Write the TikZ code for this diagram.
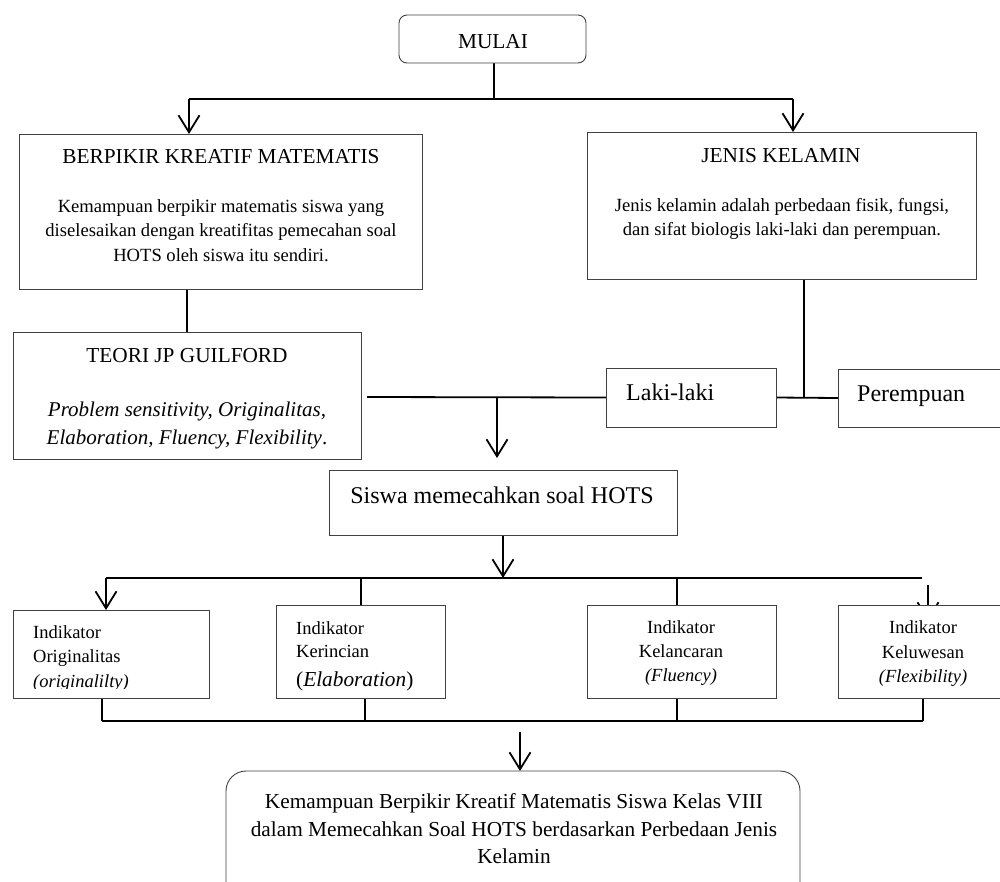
\documentclass[tikz,border=0pt]{standalone}
\usepackage{fontspec}
\setmainfont{Liberation Serif}
\usetikzlibrary{arrows.meta,backgrounds}
\tikzset{
  box/.style={draw=black!75, line width=0.9pt, fill=white, inner sep=0pt, outer sep=0pt},
  rbox/.style={box, rounded corners=#1},
  conn/.style={line width=1.8pt, black},
  arr/.style={conn, -{Straight Barb[length=17pt,width=21pt]}},
  tl/.style={inner sep=0pt, anchor=base, font=\fontsize{21.3}{24}\selectfont},
  bd/.style={inner sep=0pt, anchor=base, font=\fontsize{18.6}{22}\selectfont},
  it/.style={inner sep=0pt, anchor=base, font=\fontsize{21}{24}\selectfont\itshape},
  big/.style={inner sep=0pt, anchor=base west, font=\fontsize{24}{28}\selectfont},
  ind/.style={inner sep=0pt, anchor=base west, font=\fontsize{18.5}{22}\selectfont},
  indc/.style={inner sep=0pt, anchor=base, font=\fontsize{18.5}{22}\selectfont},
}
\begin{document}
\begin{tikzpicture}[x=1pt,y=-1pt]
\clip (0,0) rectangle (1000,881);

% boxes
\node[rbox=8pt, minimum width=187pt, minimum height=48pt] (mulai) at (492.5,39) {};
\node[box, minimum width=403pt, minimum height=155pt] (bkm) at (220.5,211.5) {};
\node[box, minimum width=389pt, minimum height=147pt] (jk) at (781.5,205.5) {};
\node[box, minimum width=348pt, minimum height=127pt] (teori) at (187,395.5) {};
\node[box, minimum width=170pt, minimum height=59pt] (laki) at (691,397.5) {};
\node[box, minimum width=172pt, minimum height=58pt] (perempuan) at (924,398) {};
\node[box, minimum width=348pt, minimum height=65pt] (siswa) at (503,503) {};
\node[box, minimum width=196pt, minimum height=88pt] (ori) at (111,654) {};
\node[box, minimum width=169pt, minimum height=93pt] (ker) at (360.5,651.5) {};
\node[box, minimum width=189pt, minimum height=93pt] (lan) at (681.5,651.5) {};
\node[box, minimum width=170pt, minimum height=93pt] (luw) at (923,651.5) {};
\node[rbox=20pt, minimum width=574pt, minimum height=140pt] (fin) at (513,841) {};

% texts
\node[tl] (mulaiT) at (493,48) {MULAI};
\node[tl] (bkmT) at (221,163) {BERPIKIR KREATIF MATEMATIS};
\node[bd] (bkm1) at (221,212) {Kemampuan berpikir matematis siswa yang};
\node[bd] (bkm2) at (221,236) {diselesaikan dengan kreatifitas pemecahan soal};
\node[bd] (bkm3) at (221,261) {HOTS oleh siswa itu sendiri.};
\node[tl] (jkT) at (781,162) {JENIS KELAMIN};
\node[bd] (jk1) at (782,211) {Jenis kelamin adalah perbedaan fisik, fungsi,};
\node[bd] (jk2) at (782,235) {dan sifat biologis laki-laki dan perempuan.};
\node[tl] (teoriT) at (187,362) {TEORI JP GUILFORD};
\node[it] (teori1) at (187,416) {Problem sensitivity, Originalitas,};
\node[it] (teori2) at (187,444) {Elaboration, Fluency, Flexibility\upshape.};
\node[big] (lakiT) at (626,400) {Laki-laki};
\node[big] (perT) at (857,401) {Perempuan};
\node[big, anchor=base] (siswaT) at (502,503) {Siswa memecahkan soal HOTS};
\node[ind] (ori1) at (33,638) {Indikator};
\node[ind] (ori2) at (33,662) {Originalitas};
\begin{scope}
\clip (14,611) rectangle (208,688.5);
\node[ind, font=\fontsize{18.5}{22}\selectfont\itshape] (ori3) at (33,687) {(originalilty)};
\end{scope}
\node[ind] (ker1) at (296,634) {Indikator};
\node[ind] (ker2) at (296,657) {Kerincian};
\node[ind, font=\fontsize{21.3}{24}\selectfont] (ker3) at (296,686) {(\textit{Elaboration})};
\node[indc] (lan1) at (681,633) {Indikator};
\node[indc] (lan2) at (681,657) {Kelancaran};
\node[indc, font=\fontsize{18.5}{22}\selectfont\itshape] (lan3) at (681,681) {(Fluency)};
\node[indc] (luw1) at (923,633) {Indikator};
\node[indc] (luw2) at (923,658) {Keluwesan};
\node[indc, font=\fontsize{18.5}{22}\selectfont\itshape] (luw3) at (923,682) {(Flexibility)};
\node[tl] (fin1) at (514,808) {Kemampuan Berpikir Kreatif Matematis Siswa Kelas VIII};
\node[tl] (fin2) at (514,836) {dalam Memecahkan Soal HOTS berdasarkan Perbedaan Jenis};
\node[tl] (fin3) at (514,863) {Kelamin};

% connectors
\coordinate (j1) at (494,99);
\coordinate (j1L) at (189,99);
\coordinate (j1R) at (793,99);
\coordinate (j2) at (804,397);
\coordinate (j3a) at (367,397);
\coordinate (j3) at (497,397);
\coordinate (s1) at (497,458);
\coordinate (h4) at (503,578);
\coordinate (h4L) at (106,578);
\coordinate (h4R) at (922,578);
\coordinate (k1) at (361,578);
\coordinate (l1) at (677,578);
\coordinate (w1) at (928,585);
\coordinate (w2) at (928,621);
\coordinate (b1) at (102,721);
\coordinate (b2) at (365,721);
\coordinate (b3) at (677,721);
\coordinate (b4) at (923,721);
\coordinate (b5) at (520,732);
\begin{scope}[on background layer]
\draw[conn] (mulai.south -| j1) -- (j1);
\draw[conn] (j1L) -- (j1R);
\draw[arr] (j1L) -- (j1L |- bkm.north);
\draw[arr] (j1R) -- (j1R |- jk.north);
\draw[conn] (teori.north |- bkm.south) -- (teori.north);
\draw[conn] (jk.south -| j2) -- (j2);
\draw[conn] (laki.east) -- (perempuan.west);
\draw[conn] (j3a) -- (laki.west);
\draw[arr] (j3) -- (s1);
\draw[arr] (siswa.south) -- (h4);
\draw[conn] (h4L) -- (h4R);
\draw[arr] (h4L) -- (h4L |- ori.north);
\draw[conn] (k1) -- (k1 |- ker.north);
\draw[conn] (l1) -- (l1 |- lan.north);
\draw[arr] (w1) -- (w2);
\draw[conn] (b1 |- ori.south) -- (b1);
\draw[conn] (b2 |- ker.south) -- (b2);
\draw[conn] (b3 |- lan.south) -- (b3);
\draw[conn] (b4 |- luw.south) -- (b4);
\draw[conn] (b1) -- (b4);
\draw[arr] (b5) -- (b5 |- fin.north);
\end{scope}
\end{tikzpicture}
\end{document}
